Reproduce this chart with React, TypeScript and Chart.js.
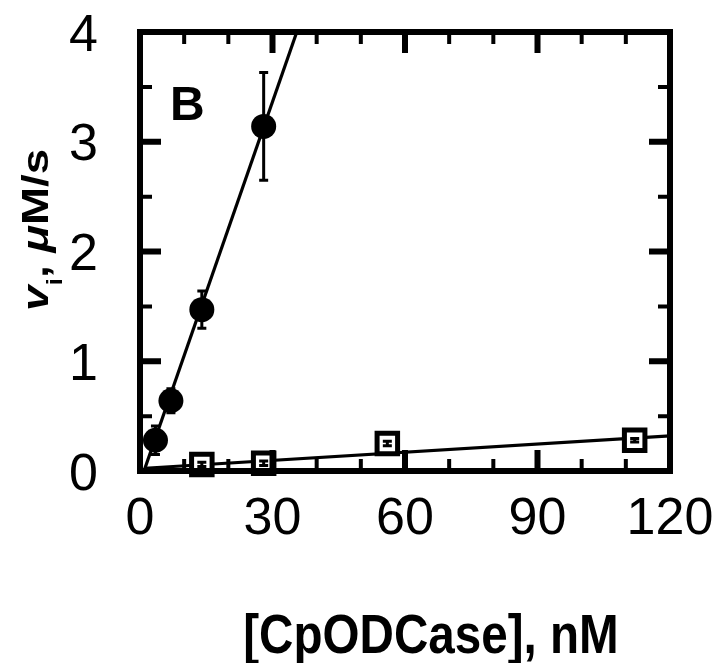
import React, { useEffect, useRef } from "react";
import { Chart, registerables } from "chart.js";

Chart.register(...registerables);

// ---- data ----
const filledX = [3.5, 7, 14, 28];
const filledY = [0.28, 0.64, 1.47, 3.14];
const filledErr = [0.13, 0.11, 0.17, 0.49];

const openX = [14, 28, 56, 112];
const openY = [0.06, 0.07, 0.25, 0.28];
const openErr = [0.02, 0.02, 0.02, 0.015];

const fitFilledX = [0.9, 35.5];
const fitFilledY = [0, 4];
const fitOpenX = [1.1, 120];
const fitOpenY = [0.025, 0.32];

const xTickValues = [0, 30, 60, 90, 120];
const yTickValues = [0, 1, 2, 3, 4];
const xMinorValues = [10, 20, 40, 50, 70, 80, 100, 110];
const yMinorValues = [0.5, 1.5, 2.5, 3.5];

const panelLabel = "B";
const xTitle = "[CpODCase], nM";

const FONT = '"Liberation Sans", Arial, Helvetica, sans-serif';

const pts = (xs: number[], ys: number[]) => xs.map((x, i) => ({ x, y: ys[i] }));

const framePlugin = {
  id: "framePlugin",
  afterDatasetsDraw(chart: any) {
    const ctx = chart.ctx;
    const xs = chart.scales.x;
    const ys = chart.scales.y;
    ctx.save();
    ctx.strokeStyle = "#000";
    ctx.lineWidth = 3;
    ctx.lineCap = "butt";
    const drawErr = (xArr: number[], yArr: number[], eArr: number[]) => {
      xArr.forEach((xv, i) => {
        const px = xs.getPixelForValue(xv);
        const pTop = ys.getPixelForValue(yArr[i] + eArr[i]);
        const pBot = ys.getPixelForValue(yArr[i] - eArr[i]);
        ctx.beginPath();
        ctx.moveTo(px, pTop);
        ctx.lineTo(px, pBot);
        ctx.moveTo(px - 4.5, pTop);
        ctx.lineTo(px + 4.5, pTop);
        ctx.moveTo(px - 4.5, pBot);
        ctx.lineTo(px + 4.5, pBot);
        ctx.stroke();
      });
    };
    drawErr(filledX, filledY, filledErr);
    drawErr(openX, openY, openErr);
    ctx.restore();
  },
  afterDraw(chart: any) {
    const ctx = chart.ctx;
    const a = chart.chartArea;
    const xs = chart.scales.x;
    const ys = chart.scales.y;
    ctx.save();
    ctx.strokeStyle = "#000";
    ctx.fillStyle = "#000";
    // frame
    ctx.lineWidth = 6;
    ctx.lineJoin = "miter";
    ctx.strokeRect(a.left, a.top, a.right - a.left, a.bottom - a.top);

    const MAJ = 21;
    const MIN = 12;
    const xt = (v: number, len: number, w: number) => {
      const px = xs.getPixelForValue(v);
      ctx.lineWidth = w;
      ctx.beginPath();
      ctx.moveTo(px, a.bottom);
      ctx.lineTo(px, a.bottom - len);
      ctx.moveTo(px, a.top);
      ctx.lineTo(px, a.top + len);
      ctx.stroke();
    };
    xTickValues.forEach((v) => xt(v, MAJ, 6));
    xMinorValues.forEach((v) => xt(v, MIN, 4));
    const yt = (v: number, len: number, w: number) => {
      const py = ys.getPixelForValue(v);
      ctx.lineWidth = w;
      ctx.beginPath();
      ctx.moveTo(a.left, py);
      ctx.lineTo(a.left + len, py);
      ctx.moveTo(a.right, py);
      ctx.lineTo(a.right - len, py);
      ctx.stroke();
    };
    yTickValues.forEach((v) => yt(v, MAJ, 6));
    yMinorValues.forEach((v) => yt(v, MIN, 4));

    // tick labels
    ctx.font = `52px ${FONT}`;
    ctx.textBaseline = "alphabetic";
    ctx.textAlign = "center";
    xTickValues.forEach((v) => {
      ctx.fillText(String(v), xs.getPixelForValue(v), 534);
    });
    ctx.textAlign = "right";
    yTickValues.forEach((v) => {
      ctx.fillText(String(v), 98, ys.getPixelForValue(v) + 18.5);
    });

    // panel label
    ctx.textAlign = "left";
    ctx.font = `bold 48px ${FONT}`;
    ctx.fillText(panelLabel, 170, 120);

    // x title
    ctx.save();
    ctx.font = `bold 56px ${FONT}`;
    ctx.textAlign = "center";
    ctx.translate(431, 653);
    ctx.scale(0.85, 1);
    ctx.fillText(xTitle, 0, 0);
    ctx.restore();

    // y title (rotated): v_i, μM/s
    ctx.save();
    ctx.translate(48, 311);
    ctx.rotate(-Math.PI / 2);
    ctx.scale(1.04, 0.86);
    ctx.textAlign = "left";
    const F = 44;
    const parts: { t: string; font: string; dy: number }[] = [
      { t: "v", font: `italic bold ${F}px ${FONT}`, dy: 0 },
      { t: "i", font: `bold ${Math.round(F * 0.6)}px ${FONT}`, dy: 16 },
      { t: ", ", font: `bold ${F}px ${FONT}`, dy: 0 },
      { t: "\u03bc", font: `italic bold ${F}px ${FONT}`, dy: 0 },
      { t: "M/s", font: `bold ${F}px ${FONT}`, dy: 0 },
    ];
    let cx = 0;
    parts.forEach((p) => {
      ctx.font = p.font;
      ctx.fillText(p.t, cx, p.dy);
      cx += ctx.measureText(p.t).width;
    });
    ctx.restore();

    ctx.restore();
  },
};

export default function App() {
  const ref = useRef<HTMLCanvasElement | null>(null);
  useEffect(() => {
    document.body.style.margin = "0";
    const canvas = ref.current!;
    const chart = new Chart(canvas, {
      type: "scatter",
      data: {
        datasets: [
          {
            label: "filled",
            data: pts(filledX, filledY),
            pointStyle: "circle",
            pointRadius: 12.5,
            pointBackgroundColor: "#000",
            pointBorderColor: "#000",
            pointBorderWidth: 0,
            showLine: false,
            clip: false,
            order: 0,
          },
          {
            label: "open",
            data: pts(openX, openY),
            pointStyle: "rect",
            pointRadius: 14.5,
            pointBackgroundColor: "#fff",
            pointBorderColor: "#000",
            pointBorderWidth: 5,
            showLine: false,
            clip: false,
            order: 0,
          },
          {
            label: "fitFilled",
            data: pts(fitFilledX, fitFilledY),
            showLine: true,
            borderColor: "#000",
            borderWidth: 3.2,
            pointRadius: 0,
            order: 1,
          },
          {
            label: "fitOpen",
            data: pts(fitOpenX, fitOpenY),
            showLine: true,
            borderColor: "#000",
            borderWidth: 3.2,
            pointRadius: 0,
            order: 1,
          },
        ],
      } as any,
      options: {
        responsive: false,
        animation: false,
        devicePixelRatio: 1,
        layout: { padding: { left: 140, top: 32, right: 48, bottom: 192 } },
        scales: {
          x: { type: "linear", min: 0, max: 120, display: false },
          y: { type: "linear", min: 0, max: 4, display: false },
        },
        plugins: {
          legend: { display: false },
          tooltip: { enabled: false },
        },
      } as any,
      plugins: [framePlugin],
    });
    return () => chart.destroy();
  }, []);
  return (
    <canvas
      ref={ref}
      width={718}
      height={663}
      style={{ display: "block", width: 718, height: 663 }}
    />
  );
}
